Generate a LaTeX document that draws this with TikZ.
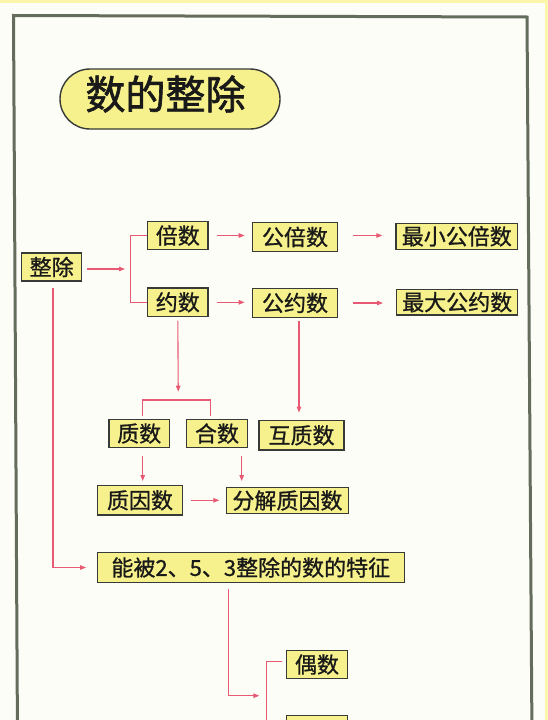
\documentclass[tikz,border=0pt]{standalone}
\usepackage{fontspec}
\setmainfont{Noto Sans CJK SC}
\newfontfamily\boxfont{Noto Sans CJK SC}[FakeBold=0.9]
\newfontfamily\titlefont{Noto Sans CJK SC}[FakeBold=1.6]
\usetikzlibrary{arrows.meta}
\definecolor{boxfill}{RGB}{246,241,140}
\definecolor{boxline}{RGB}{55,58,55}
\definecolor{ink}{RGB}{25,25,25}
\definecolor{linkred}{RGB}{232,90,115}
\definecolor{framec}{RGB}{100,108,92}
\definecolor{paper}{RGB}{253,253,247}
\definecolor{edgey}{RGB}{252,246,170}
\begin{document}
\begin{tikzpicture}[x=1pt,y=-1pt,
  box/.style={draw=boxline,fill=boxfill,line width=1.3pt,inner sep=0pt,text=ink,font=\boxfont\fontsize{22}{22}\selectfont},
  con/.style={draw=linkred,line width=1.1pt},
  arr/.style={con,-{Triangle[length=6pt,width=4.5pt]}},
  framestyle/.style={draw=framec,line width=3pt},
  pill/.style={draw=boxline,fill=boxfill,line width=1.4pt,rounded corners=30pt}]
\useasboundingbox (0,0) rectangle (548,720);
\clip (0,0) rectangle (548,720);
\fill[paper] (0,0) rectangle (548,720);
\fill[edgey] (0,0) rectangle (548,3);
\fill[edgey] (545,0) rectangle (548,720);
% frame
\draw[framestyle] (17.5,740) -- (13.5,15.5) -- (527,17) -- (532,740);
% title
\draw[pill] (60,69) rectangle (280,129);
\node[text=ink,inner sep=0pt,font=\titlefont\fontsize{40}{40}\selectfont] (title) at (165.5,94) {数的整除};
% boxes
\node[box,minimum width=60,minimum height=28] (zc) at (51.7,267) {整除};
\node[box,minimum width=60.3,minimum height=27.6] (bs) at (177.8,235.5) {倍数};
\node[box,minimum width=60.3,minimum height=28.7] (ys) at (177.8,302.3) {约数};
\node[box,minimum width=85.4,minimum height=29.4] (gbs) at (295,237) {公倍数};
\node[box,minimum width=121.7,minimum height=26] (zxgbs) at (456.8,236.3) {最小公倍数};
\node[box,minimum width=85.4,minimum height=29.4] (gys) at (295,303) {公约数};
\node[box,minimum width=121,minimum height=25.7] (zdgys) at (457.2,302.2) {最大公约数};
\node[box,minimum width=60.3,minimum height=28.4] (zs) at (139.2,433.5) {质数};
\node[box,minimum width=60.6,minimum height=28.4] (hs) at (217,433.5) {合数};
\node[box,minimum width=85,minimum height=29.3] (hzs) at (301.5,435.3) {互质数};
\node[box,minimum width=85.4,minimum height=29.3] (zys) at (140,500.3) {质因数};
\node[box,minimum width=121.6,minimum height=25.6] (fj) at (287.5,500.5) {分解质因数};
\node[box,minimum width=307,minimum height=29.6] (nb) at (250.8,567.5) {能被2、5、3整除的数的特征};
\node[box,minimum width=60.6,minimum height=27.6] (os) at (317,664.5) {偶数};
\node[box,minimum width=60.6,minimum height=28] (js) at (317,729.7) {};
% connectors
\coordinate (b1) at (130.7,269);
\draw[arr,shorten <=5pt,shorten >=5.7pt] (zc.east |- b1) -- (b1);
\draw[con] (bs.west) -| (b1) |- (ys.west);
\draw[arr,shorten <=8pt,shorten >=7pt] (bs.east) -- (bs.east -| gbs.west);
\draw[arr,shorten <=15pt,shorten >=13pt] ([yshift=1.5pt]gbs.east) -- ([yshift=1.5pt]gbs.east -| zxgbs.west);
\draw[arr,shorten <=8pt,shorten >=7pt] (ys.east) -- (ys.east -| gys.west);
\draw[arr,shorten <=15pt,shorten >=13pt] (gys.east) -- (gys.east -| zdgys.west);
\coordinate (b2) at (178.3,400);
\coordinate (b2l) at (142.3,400);
\coordinate (b2r) at (210.7,400);
\draw[arr,shorten <=3.3pt,shorten >=8.3pt] (ys.south) -- (b2);
\draw[con,shorten <=2.3pt,shorten >=2.3pt] (b2l |- zs.north) -- (b2l) -- (b2r) -- (b2r |- hs.north);
\draw[arr,shorten <=3pt,shorten >=7.4pt] ([xshift=4pt]gys.south) -- ([xshift=4pt]gys.south |- hzs.north);
\draw[arr,shorten <=7.3pt,shorten >=4pt] ([xshift=3.5pt]zs.south) -- ([xshift=3.5pt]zs.south |- zys.north);
\draw[arr,shorten <=7.3pt,shorten >=6pt] ([xshift=24.7pt]hs.south) -- ([xshift=24.7pt]hs.south |- fj.north);
\draw[arr,shorten <=7.3pt,shorten >=6.7pt] (zys.east) -- (zys.east -| fj.west);
\draw[arr,shorten <=6.3pt,shorten >=10.6pt] ([xshift=1.3pt]zc.south) |- (nb.west);
\coordinate (b3) at (266.7,695.7);
\draw[arr,shorten <=6pt,shorten >=7.4pt] ([xshift=-22.5pt]nb.south) |- (b3);
\draw[con] ([xshift=-4pt,yshift=2.8pt]os.west) -| (b3) |- ([xshift=-4pt]js.west);
\end{tikzpicture}
\end{document}
